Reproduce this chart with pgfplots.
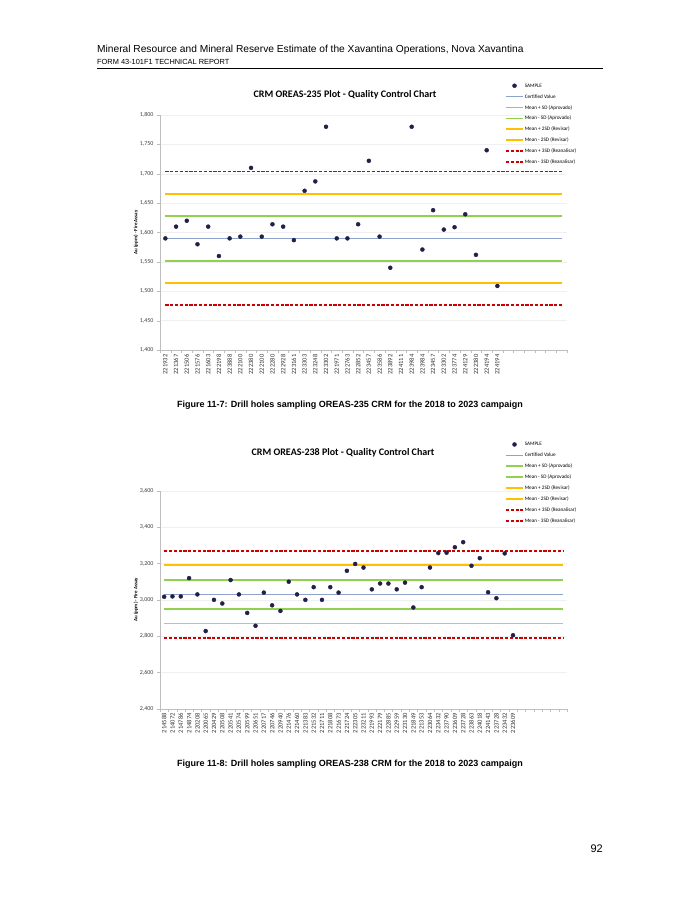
\documentclass[border=0pt]{standalone}
\usepackage{pgfplots}
\usepackage{pgfplotstable}
\pgfplotsset{compat=1.18}
\usepackage{fontspec}
\setmainfont{Liberation Sans}
\newfontfamily\calibri{Carlito}
\definecolor{sample}{RGB}{32,32,72}
\definecolor{certc}{RGB}{141,163,204}
\definecolor{greenc}{RGB}{146,208,80}
\definecolor{orangec}{RGB}{255,192,0}
\definecolor{redc}{RGB}{204,0,0}
\definecolor{axc}{RGB}{190,190,190}

\pgfplotstableread{
x y
0 1.590
1 1.610
2 1.620
3 1.580
4 1.610
5 1.560
6 1.590
7 1.593
8 1.710
9 1.593
10 1.614
11 1.610
12 1.587
13 1.671
14 1.687
15 1.780
16 1.590
17 1.590
18 1.614
19 1.722
20 1.593
21 1.540
23 1.780
24 1.571
25 1.638
26 1.605
27 1.609
28 1.631
29 1.562
30 1.740
31 1.509
}\sampleA

\pgfplotstableread{
x y
0 3.017
1 3.019
2 3.019
3 3.120
4 3.030
5 2.828
6 3.000
7 2.980
8 3.109
9 3.030
10 2.928
11 2.857
12 3.040
13 2.970
14 2.939
15 3.100
16 3.030
17 3.000
18 3.070
19 3.000
20 3.070
21 3.040
22 3.160
23 3.198
24 3.178
25 3.058
26 3.090
27 3.090
28 3.058
29 3.095
30 2.958
31 3.070
32 3.178
33 3.258
34 3.260
35 3.290
36 3.318
37 3.188
38 3.230
39 3.042
40 3.009
41 3.256
42 2.805
}\sampleB

\pgfplotsset{
  qc/.style={
    scale only axis,
    anchor=south west,
    axis x line*=bottom,
    axis y line*=left,
    axis line style={draw=axc,-},
    ymajorgrids,
    major grid style={draw=gray!12},
    tick align=outside,
    major tick length=3pt,
    minor tick length=3pt,
    ytick style={draw=axc},
    major x tick style={draw=none},
    minor x tick style={draw=axc},
    clip=false,
    /pgf/number format/.cd, fixed, fixed zerofill, precision=3, use comma, assume math mode=true,
    /pgfplots/.cd,
    yticklabel style={font=\calibri\fontsize{6}{7}\selectfont, color=black!75},
    xticklabel style={rotate=90, anchor=east, font=\calibri\fontsize{6.5}{7}\selectfont, color=black!80, inner sep=1.5pt},
    ylabel={Au (ppm) - Fire Assay},
    every axis y label/.style={at={(axis description cs:-0.059,0.5)}, rotate=90, anchor=center, font=\calibri\bfseries\fontsize{5}{6}\selectfont},
    legend style={draw=none, fill=none, anchor=north west,
      font=\calibri\fontsize{5.2}{6}\selectfont,
      nodes={inner sep=0.8pt, text height=4pt, text depth=1pt},
      row sep=4.3pt},
    legend cell align=left,
  },
  certl/.style={draw=certc, line width=1.1pt},
  greenl/.style={draw=greenc, line width=1.8pt},
  orangel/.style={draw=orangec, line width=1.8pt},
  redl/.style={draw=redc, line width=1.8pt, dash pattern=on 3.2pt off 1.6pt},
  samp/.style={only marks, mark=*, mark size=2pt, color=sample},
}

\begin{document}
\begin{tikzpicture}[x=1pt,y=1pt]
\path[fill=white] (0,0) rectangle (700,-906);
% header
\node[anchor=base west, inner sep=0pt, font=\fontsize{10.2}{12}\selectfont] at (97,-52.5) {Mineral Resource and Mineral Reserve Estimate of the Xavantina Operations, Nova Xavantina};
\node[anchor=base west, inner sep=0pt, font=\fontsize{7.4}{9}\selectfont] at (97,-64.5) {FORM 43-101F1 TECHNICAL REPORT};
\draw[line width=1.5pt] (97,-68.5) -- (603,-68.5);

% chart 1
\node[font=\calibri\bfseries\fontsize{10}{12}\selectfont] at (345,-95) {CRM OREAS-235 Plot - Quality Control Chart};
\begin{axis}[qc,
  at={(160pt,-350pt)}, width=407pt, height=235pt,
  xmin=-0.5, xmax=37.5, ymin=1.4, ymax=1.8,
  ytick={1.4,1.45,...,1.81},
  xtick={0,...,31},
  minor xtick={-0.5,0.5,...,37.6},
  xticklabels={221932,221367,221506,221576,221603,222198,223888,222100,222380,222100,222280,222928,223161,223303,223248,223302,221971,222763,222852,223457,223586,223892,224111,223984,223984,223457,223302,223774,224129,222380,224194,224194},
  legend style={at={(0.84,1.148)}},
]
\addlegendimage{samp}\addlegendentry{SAMPLE}
\addplot[certl] coordinates {(0,1.590) (37,1.590)};\addlegendentry{Certified Value}
\addplot[greenl] coordinates {(0,1.628) (37,1.628)};\addlegendentry{Mean + SD (Aprovado)}
\addplot[greenl] coordinates {(0,1.552) (37,1.552)};\addlegendentry{Mean - SD (Aprovado)}
\addplot[orangel] coordinates {(0,1.666) (37,1.666)};\addlegendentry{Mean + 2SD (Revisar)}
\addplot[orangel] coordinates {(0,1.514) (37,1.514)};\addlegendentry{Mean - 2SD (Revisar)}
\addplot[redl] coordinates {(0,1.704) (37,1.704)};\addlegendentry{Mean + 3SD (Reanalisar)}
\addplot[redl] coordinates {(0,1.476) (37,1.476)};\addlegendentry{Mean - 3SD (Reanalisar)}
\addplot[samp, forget plot] table[x=x,y=y] {\sampleA};
\end{axis}
\node[font=\bfseries\fontsize{9}{11}\selectfont] at (350,-405) {Figure 11-7: Drill holes sampling OREAS-235 CRM for the 2018 to 2023 campaign};

% chart 2
\node[font=\calibri\bfseries\fontsize{10}{12}\selectfont] at (343,-453) {CRM OREAS-238 Plot - Quality Control Chart};
\begin{axis}[qc,
  at={(160pt,-708.7pt)}, width=407pt, height=217.7pt,
  xmin=-0.5, xmax=48.5, ymin=2.4, ymax=3.6,
  ytick={2.4,2.6,...,3.61},
  xtick={0,...,42},
  minor xtick={-0.5,0.5,...,48.6},
  xticklabels={214588,214072,214786,214874,220208,220065,220429,220508,220541,220574,220599,220651,220717,220746,220940,221476,221460,221383,221532,221711,221808,221673,221724,222305,223211,221993,222179,222885,222959,223130,221849,221353,223064,223432,223790,223609,223728,223863,224018,224143,223728,223432,223609},
  legend style={at={(0.84,1.239)}},
]
\addlegendimage{samp}\addlegendentry{SAMPLE}
\addplot[certl] coordinates {(0,3.030) (48,3.030)};\addlegendentry{Certified Value}
\addplot[greenl] coordinates {(0,3.110) (48,3.110)};\addlegendentry{Mean + SD (Aprovado)}
\addplot[greenl] coordinates {(0,2.950) (48,2.950)};\addlegendentry{Mean - SD (Aprovado)}
\addplot[orangel] coordinates {(0,3.190) (48,3.190)};\addlegendentry{Mean + 2SD (Revisar)}
\addplot[orangel] coordinates {(0,2.870) (48,2.870)};\addlegendentry{Mean - 2SD (Revisar)}
\addplot[redl] coordinates {(0,3.270) (48,3.270)};\addlegendentry{Mean + 3SD (Reanalisar)}
\addplot[redl] coordinates {(0,2.790) (48,2.790)};\addlegendentry{Mean - 3SD (Reanalisar)}
\addplot[samp, forget plot] table[x=x,y=y] {\sampleB};
\end{axis}
\node[font=\bfseries\fontsize{9}{11}\selectfont] at (350,-764) {Figure 11-8: Drill holes sampling OREAS-238 CRM for the 2018 to 2023 campaign};

\node[anchor=base east, inner sep=0pt, font=\fontsize{11}{13}\selectfont] at (603,-852) {92};
\end{tikzpicture}
\end{document}
